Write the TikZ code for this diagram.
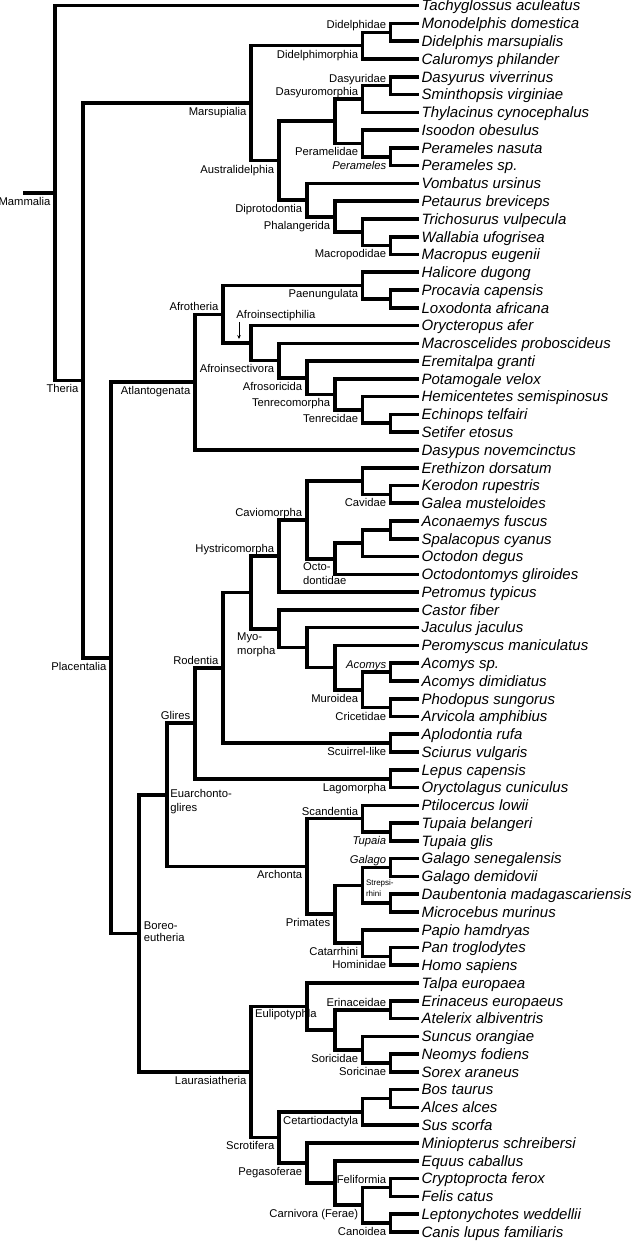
\documentclass[tikz,border=0pt]{standalone}
\usepackage{fontspec}
\setmainfont{Liberation Sans}
\usetikzlibrary{arrows.meta}
\newcommand\leaffont{\fontsize{15}{18}\selectfont\itshape}
\newcommand\labfont{\fontsize{11.25}{13.5}\selectfont}
\newcommand\tinyfont{\fontsize{8}{9.6}\selectfont}
\begin{document}
\begin{tikzpicture}[x=27.97pt, y=-17.77pt,
  br/.style={line width=3.6pt, line join=miter},
  leaf/.style={anchor=base west, inner sep=0pt, font=\leaffont},
  lab/.style={inner sep=0pt, font=\labfont},
  ab/.style={lab, anchor=base east, xshift=-4.3pt, yshift=3.6pt},
  bl/.style={lab, anchor=base east, xshift=-4.3pt, yshift=-12.4pt},
  lw/.style={lab, anchor=base west},
  it/.style={font=\labfont\itshape}]
\useasboundingbox (-55pt,5.7pt) rectangle (579pt,-1235.3pt);

% ---- leaves
\foreach \n [count=\i from 0] in {Tachyglossus aculeatus, Monodelphis domestica, Didelphis marsupialis, Caluromys philander, Dasyurus viverrinus, Sminthopsis virginiae, Thylacinus cynocephalus, Isoodon obesulus, Perameles nasuta, Perameles sp., Vombatus ursinus, Petaurus breviceps, Trichosurus vulpecula, Wallabia ufogrisea, Macropus eugenii, Halicore dugong, Procavia capensis, Loxodonta africana, Orycteropus afer, Macroscelides proboscideus, Eremitalpa granti, Potamogale velox, Hemicentetes semispinosus, Echinops telfairi, Setifer etosus, Dasypus novemcinctus, Erethizon dorsatum, Kerodon rupestris, Galea musteloides, Aconaemys fuscus, Spalacopus cyanus, Octodon degus, Octodontomys gliroides, Petromus typicus, Castor fiber, Jaculus jaculus, Peromyscus maniculatus, Acomys sp., Acomys dimidiatus, Phodopus sungorus, Arvicola amphibius, Aplodontia rufa, Sciurus vulgaris, Lepus capensis, Oryctolagus cuniculus, Ptilocercus lowii, Tupaia belangeri, Tupaia glis, Galago senegalensis, Galago demidovii, Daubentonia madagascariensis, Microcebus murinus, Papio hamdryas, Pan troglodytes, Homo sapiens, Talpa europaea, Erinaceus europaeus, Atelerix albiventris, Suncus orangiae, Neomys fodiens, Sorex araneus, Bos taurus, Alces alces, Sus scorfa, Miniopterus schreibersi, Equus caballus, Cryptoprocta ferox, Felis catus, Leptonychotes weddellii, Canis lupus familiaris}
{
  \coordinate (l\i) at (13,\i);
  \node[leaf] (t\i) at ([xshift=2.8pt, yshift=-5.3pt]l\i) {\n};
}

% ---- internal nodes (column, row)
\coordinate (Didelphidae) at (12,1.5);
\coordinate (Didelphimorphia) at (11,2.25);
\coordinate (Dasyuridae) at (12,4.5);
\coordinate (Dasyuromorphia) at (11,5.25);
\coordinate (Perameles) at (12,8.5);
\coordinate (Peramelidae) at (11,7.75);
\coordinate (DasPer) at (10,6.5);
\coordinate (Macropodidae) at (12,13.5);
\coordinate (Macro2) at (11,12.75);
\coordinate (Phalangerida) at (10,11.875);
\coordinate (Diprotodontia) at (9,10.9375);
\coordinate (Australidelphia) at (8,8.71875);
\coordinate (Marsupialia) at (7,5.484375);
\coordinate (Paen2) at (12,16.5);
\coordinate (Paenungulata) at (11,15.75);
\coordinate (Tenr2) at (12,23.5);
\coordinate (Tenrecidae) at (11,22.75);
\coordinate (Tenrecomorpha) at (10,21.875);
\coordinate (Afrosoricida) at (9,20.9375);
\coordinate (Afroinsectivora) at (8,19.96875);
\coordinate (Afroinsectiphilia) at (7,18.984375);
\coordinate (Afrotheria) at (6,17.3671875);
\coordinate (Atlantogenata) at (5,21.18359375);
\coordinate (Cavidae) at (12,27.5);
\coordinate (Ereth) at (11,26.75);
\coordinate (Octo3) at (12,29.5);
\coordinate (Octo2) at (11,30.25);
\coordinate (Octodontidae) at (10,31.125);
\coordinate (Caviomorpha) at (9,28.9375);
\coordinate (Hystricomorpha) at (8,30.96875);
\coordinate (Acomys) at (12,37.5);
\coordinate (Cricetidae) at (12,39.5);
\coordinate (Muroidea) at (11,38.5);
\coordinate (Myo3) at (10,37.25);
\coordinate (Myo2) at (9,36.125);
\coordinate (Myomorpha) at (8,35.0625);
\coordinate (HM) at (7,33.015625);
\coordinate (Sciurid) at (12,41.5);
\coordinate (Rodentia) at (6,37.2578125);
\coordinate (Lagomorpha) at (12,43.5);
\coordinate (Glires) at (5,40.37890625);
\coordinate (Tupaia) at (12,46.5);
\coordinate (Scandentia) at (11,45.75);
\coordinate (Galago) at (12,48.5);
\coordinate (Strep2) at (12,50.5);
\coordinate (Strepsirhini) at (11,49.5);
\coordinate (Hominidae) at (12,53.5);
\coordinate (Catarrhini) at (11,52.75);
\coordinate (Primates) at (10,51.125);
\coordinate (Archonta) at (9,48.4375);
\coordinate (Euarchontoglires) at (4,44.408203125);
\coordinate (Erinaceidae) at (12,56.5);
\coordinate (Soricinae) at (12,59.5);
\coordinate (Soricidae) at (11,58.75);
\coordinate (Eul2) at (10,57.625);
\coordinate (Eulipotyphla) at (9,56.3125);
\coordinate (Cet2) at (12,61.5);
\coordinate (Cetartiodactyla) at (11,62.25);
\coordinate (Feliformia) at (12,66.5);
\coordinate (Canoidea) at (12,68.5);
\coordinate (Carnivora) at (11,67.5);
\coordinate (Peg2) at (10,66.25);
\coordinate (Pegasoferae) at (9,65.125);
\coordinate (Scrotifera) at (8,63.6875);
\coordinate (Laurasiatheria) at (7,60);
\coordinate (Boreoeutheria) at (3,52.2041015625);
\coordinate (Placentalia) at (2,36.69384765625);
\coordinate (Theria) at (1,21.089111328125);
\coordinate (Mammalia) at (0,10.5445556640625);
\coordinate (root) at ([xshift=-32pt]Mammalia);

% ---- clade labels, above left
\foreach \c/\t in {Didelphidae/Didelphidae, Dasyuridae/Dasyuridae, Dasyuromorphia/Dasyuromorphia, Afrotheria/Afrotheria, Caviomorpha/Caviomorpha, Hystricomorpha/Hystricomorpha, Rodentia/Rodentia, Glires/Glires, Scandentia/Scandentia, Erinaceidae/Erinaceidae, Feliformia/Feliformia}
  \node[ab] (lab\c) at (\c) {\t};
\foreach \c in {Acomys, Galago}
  \node[ab, it] (lab\c) at (\c) {\c};
% ---- clade labels, below left
\foreach \c/\t in {Mammalia/Mammalia, Theria/Theria, Marsupialia/Marsupialia, Didelphimorphia/Didelphimorphia, Peramelidae/Peramelidae, Australidelphia/Australidelphia, Diprotodontia/Diprotodontia, Phalangerida/Phalangerida, Macropodidae/Macropodidae, Placentalia/Placentalia, Atlantogenata/Atlantogenata, Paenungulata/Paenungulata, Afroinsectivora/Afroinsectivora, Afrosoricida/Afrosoricida, Tenrecomorpha/Tenrecomorpha, Tenrecidae/Tenrecidae, Cavidae/Cavidae, Muroidea/Muroidea, Cricetidae/Cricetidae, Sciurid/Scuirrel-like, Lagomorpha/Lagomorpha, Archonta/Archonta, Primates/Primates, Catarrhini/Catarrhini, Hominidae/Hominidae, Laurasiatheria/Laurasiatheria, Soricidae/Soricidae, Soricinae/Soricinae, Cetartiodactyla/Cetartiodactyla, Scrotifera/Scrotifera, Pegasoferae/Pegasoferae, Carnivora/Carnivora (Ferae), Canoidea/Canoidea}
  \node[bl] (lab\c) at (\c) {\t};
\foreach \c in {Perameles, Tupaia}
  \node[bl, it] (lab\c) at (\c) {\c};

% ---- special labels
\node[lw] (labAfroinsectiphilia) at ([xshift=-14.5pt, yshift=25pt]Afroinsectiphilia) {Afroinsectiphilia};
\coordinate (afroTip) at ([xshift=-11.8pt, yshift=4pt]Afroinsectiphilia);
\draw[line width=0.7pt, -{Stealth[length=4pt, width=3.5pt]}] ([xshift=2.7pt, yshift=-4pt]labAfroinsectiphilia.base west) -- (afroTip);
\node[lw] (labOcto1) at ([xshift=-31.7pt, yshift=-11.9pt]Octodontidae) {Octo-};
\node[lw] (labOcto2) at ([xshift=-31.7pt, yshift=-26.2pt]Octodontidae) {dontidae};
\node[lw] (labMyo1) at ([xshift=-41.8pt, yshift=-12.2pt]Myomorpha) {Myo-};
\node[lw] (labMyo2) at ([xshift=-41.8pt, yshift=-26.2pt]Myomorpha) {morpha};
\node[lw] (labEua1) at ([xshift=3.4pt, yshift=-2.5pt]Euarchontoglires) {Euarchonto-};
\node[lw] (labEua2) at ([xshift=3.4pt, yshift=-16.5pt]Euarchontoglires) {glires};
\node[lw] (labBor1) at ([xshift=4.8pt, yshift=3.4pt]Boreoeutheria) {Boreo-};
\node[lw] (labBor2) at ([xshift=4.8pt, yshift=-8.6pt]Boreoeutheria) {eutheria};
\node[lw, font=\tinyfont] (labStr1) at ([xshift=3.2pt, yshift=-0.3pt]Strepsirhini) {Strepsi-};
\node[lw, font=\tinyfont] (labStr2) at ([xshift=3.2pt, yshift=-10.9pt]Strepsirhini) {rhini};
\node[lw] (labEulipotyphla) at ([xshift=-51.7pt, yshift=-11.6pt]Eulipotyphla) {Eulipotyphla};

% ---- branches
\draw[br] (root) -- (Mammalia);
\foreach \p/\c in {Mammalia/l0, Mammalia/Theria, Theria/Marsupialia, Theria/Placentalia,
  Marsupialia/Didelphimorphia, Marsupialia/Australidelphia,
  Didelphimorphia/Didelphidae, Didelphimorphia/l3, Didelphidae/l1, Didelphidae/l2,
  Australidelphia/DasPer, Australidelphia/Diprotodontia,
  DasPer/Dasyuromorphia, DasPer/Peramelidae,
  Dasyuromorphia/Dasyuridae, Dasyuromorphia/l6, Dasyuridae/l4, Dasyuridae/l5,
  Peramelidae/l7, Peramelidae/Perameles, Perameles/l8, Perameles/l9,
  Diprotodontia/l10, Diprotodontia/Phalangerida, Phalangerida/l11, Phalangerida/Macro2,
  Macro2/l12, Macro2/Macropodidae, Macropodidae/l13, Macropodidae/l14,
  Placentalia/Atlantogenata, Placentalia/Boreoeutheria,
  Atlantogenata/Afrotheria, Atlantogenata/l25,
  Afrotheria/Paenungulata, Afrotheria/Afroinsectiphilia,
  Paenungulata/l15, Paenungulata/Paen2, Paen2/l16, Paen2/l17,
  Afroinsectiphilia/l18, Afroinsectiphilia/Afroinsectivora,
  Afroinsectivora/l19, Afroinsectivora/Afrosoricida,
  Afrosoricida/l20, Afrosoricida/Tenrecomorpha,
  Tenrecomorpha/l21, Tenrecomorpha/Tenrecidae,
  Tenrecidae/l22, Tenrecidae/Tenr2, Tenr2/l23, Tenr2/l24,
  Boreoeutheria/Euarchontoglires, Boreoeutheria/Laurasiatheria,
  Euarchontoglires/Glires, Euarchontoglires/Archonta,
  Glires/Rodentia, Glires/Lagomorpha,
  Rodentia/HM, Rodentia/Sciurid,
  HM/Hystricomorpha, HM/Myomorpha,
  Hystricomorpha/Caviomorpha, Hystricomorpha/l33,
  Caviomorpha/Ereth, Caviomorpha/Octodontidae,
  Ereth/l26, Ereth/Cavidae, Cavidae/l27, Cavidae/l28,
  Octodontidae/Octo2, Octodontidae/l32, Octo2/Octo3, Octo2/l31, Octo3/l29, Octo3/l30,
  Myomorpha/l34, Myomorpha/Myo2, Myo2/l35, Myo2/Myo3, Myo3/l36, Myo3/Muroidea,
  Muroidea/Acomys, Muroidea/Cricetidae, Acomys/l37, Acomys/l38, Cricetidae/l39, Cricetidae/l40,
  Sciurid/l41, Sciurid/l42, Lagomorpha/l43, Lagomorpha/l44,
  Archonta/Scandentia, Archonta/Primates,
  Scandentia/l45, Scandentia/Tupaia, Tupaia/l46, Tupaia/l47,
  Primates/Strepsirhini, Primates/Catarrhini,
  Strepsirhini/Galago, Strepsirhini/Strep2, Galago/l48, Galago/l49, Strep2/l50, Strep2/l51,
  Catarrhini/l52, Catarrhini/Hominidae, Hominidae/l53, Hominidae/l54,
  Laurasiatheria/Eulipotyphla, Laurasiatheria/Scrotifera,
  Eulipotyphla/l55, Eulipotyphla/Eul2, Eul2/Erinaceidae, Eul2/Soricidae,
  Erinaceidae/l56, Erinaceidae/l57, Soricidae/l58, Soricidae/Soricinae, Soricinae/l59, Soricinae/l60,
  Scrotifera/Cetartiodactyla, Scrotifera/Pegasoferae,
  Cetartiodactyla/Cet2, Cetartiodactyla/l63, Cet2/l61, Cet2/l62,
  Pegasoferae/l64, Pegasoferae/Peg2, Peg2/l65, Peg2/Carnivora,
  Carnivora/Feliformia, Carnivora/Canoidea, Feliformia/l66, Feliformia/l67, Canoidea/l68, Canoidea/l69}
  \draw[br] (\p) |- (\c);
\end{tikzpicture}
\end{document}
